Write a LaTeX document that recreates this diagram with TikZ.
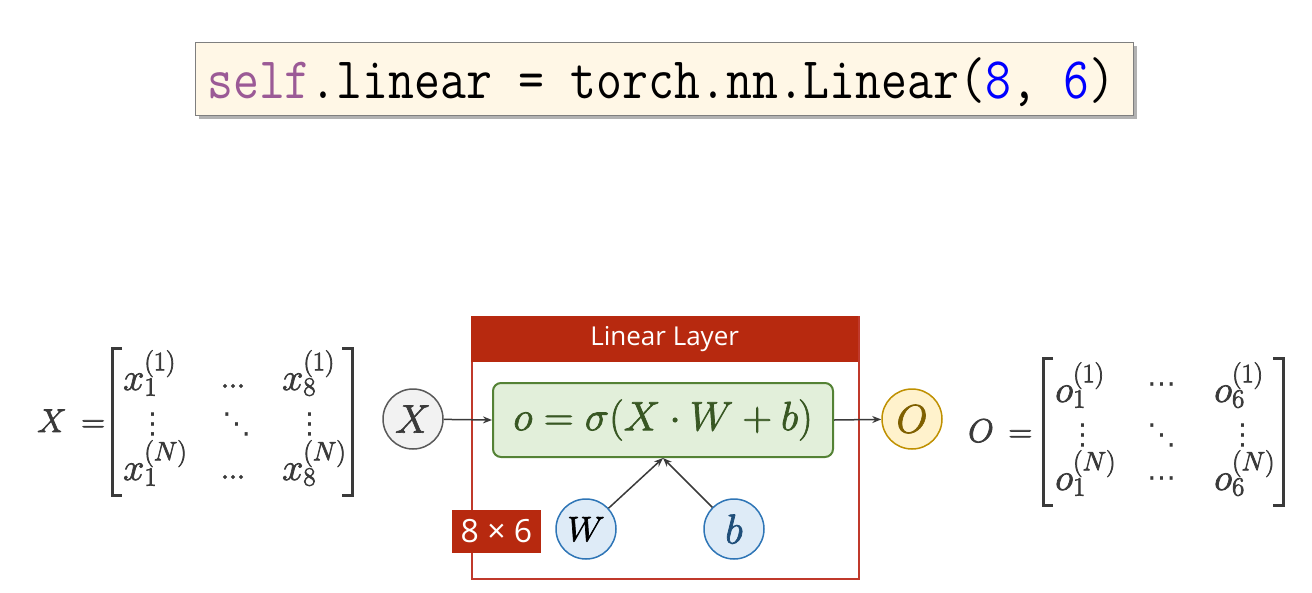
\RequirePackage{fix-cm}
\documentclass[tikz,border=0pt]{standalone}
\usepackage{fontspec}
\usetikzlibrary{arrows.meta,shadows}
\newfontfamily\uifont{Open Sans}
\newfontfamily\dotfont{DejaVu Sans}
\definecolor{codebg}{HTML}{FFF7E6}
\definecolor{codeborder}{HTML}{7F7F7F}
\definecolor{selfc}{HTML}{9B5A96}
\definecolor{numc}{HTML}{0000FF}
\definecolor{layerred}{HTML}{B7290F}
\definecolor{framec}{HTML}{C0392B}
\definecolor{greenfill}{HTML}{E2EFDA}
\definecolor{greenline}{HTML}{548235}
\definecolor{greentext}{HTML}{385723}
\definecolor{darkgray}{HTML}{3A3A3A}
\definecolor{xfill}{HTML}{F2F2F2}
\definecolor{xline}{HTML}{595959}
\definecolor{ofill}{HTML}{FFF2CC}
\definecolor{oline}{HTML}{BF9000}
\definecolor{otext}{HTML}{7F6000}
\definecolor{bfill}{HTML}{DEEBF7}
\definecolor{bline}{HTML}{2E75B6}
\definecolor{btext}{HTML}{1F4E79}
\newcommand{\mhdots}{\hbox{.\kern-1.5pt.\kern-1.5pt.}}
\newcommand{\csp}{\hspace*{0.525em}}
\newcommand{\fb}[1]{\special{pdf:literal direct 0.7 w 2 Tr}#1\special{pdf:literal direct 0 Tr}}
\begin{document}
\begin{tikzpicture}[x=1pt,y=-1pt,
  codebox/.style={draw=codeborder, line width=1pt, fill=codebg,
    drop shadow={shadow xshift=3pt, shadow yshift=-3pt, fill=black, opacity=0.3}},
  ent/.style={inner sep=0pt, text=darkgray, font=\fontsize{38}{42}\selectfont},
  dots/.style={inner sep=0pt, text=darkgray, font=\dotfont\fontsize{29}{32}\selectfont},
  bracket/.style={draw=darkgray, line width=3pt},
  conn/.style={draw=darkgray, line width=1.5pt, -{Stealth[length=9pt,width=7pt]}},
  circ/.style={circle, minimum size=60pt, inner sep=0pt, line width=1.5pt},
  fbox/.style={draw=greenline, line width=2pt, fill=greenfill, rounded corners=8pt,
    minimum width=340pt, minimum height=74pt, text=greentext,
    font=\fontsize{41}{45}\selectfont},
]
\useasboundingbox (0,0) rectangle (1312,592);
% code box
\node[codebox, minimum width=938pt, minimum height=73pt, anchor=north west] (code) at (195,42) {};
\node[anchor=base west, inner sep=0pt] (codetext) at (207,98)
  {\scalebox{1}[1.17]{\ttfamily\fontsize{50.3}{52}\selectfont\textcolor{selfc}{self}.linear\csp=\csp torch.nn.Linear(\textcolor{numc}{8},\csp\textcolor{numc}{6})}};
% left matrix
\node[ent, anchor=base west, font=\fontsize{33}{36}\selectfont] (Xeq) at (37,432) {\fb{$X\mkern3mu=$}};
\draw[bracket] (122,348) -- (112,348) -- (112,495) -- (122,495);
\draw[bracket] (342,348) -- (352,348) -- (352,495) -- (342,495);
\node[ent, anchor=base west] (x11) at (123,390) {\fb{$x_1^{(1)}$}};
\node[ent] (x1d) at (233,386) {\fb{\mhdots}};
\node[ent, anchor=base west] (x18) at (282,390) {\fb{$x_8^{(1)}$}};
\node[dots] (xv1) at (153,424) {⋮};
\node[dots] (xdd) at (237,424) {⋱};
\node[dots] (xv8) at (310,424) {⋮};
\node[ent, anchor=base west] (xN1) at (123,480) {\fb{$x_1^{(N)}$}};
\node[ent] (xNd) at (233,477) {\fb{\mhdots}};
\node[ent, anchor=base west] (xN8) at (282,480) {\fb{$x_8^{(N)}$}};
% right matrix
\node[ent, anchor=base west, font=\fontsize{33}{36}\selectfont] (Oeq) at (968,442) {\fb{$O\mkern3mu=$}};
\draw[bracket] (1053,358) -- (1043,358) -- (1043,505) -- (1053,505);
\draw[bracket] (1273,358) -- (1283,358) -- (1283,505) -- (1273,505);
\node[ent, anchor=base west] (o11) at (1055,402) {\fb{$o_1^{(1)}$}};
\node[dots] (o1d) at (1162,388) {⋯};
\node[ent, anchor=base west] (o16) at (1214,402) {\fb{$o_6^{(1)}$}};
\node[dots] (ov1) at (1083,435) {⋮};
\node[dots] (odd) at (1162,435) {⋱};
\node[dots] (ov6) at (1243,435) {⋮};
\node[ent, anchor=base west] (oN1) at (1055,490) {\fb{$o_1^{(N)}$}};
\node[dots] (oNd) at (1162,482) {⋯};
\node[ent, anchor=base west] (oN6) at (1214,490) {\fb{$o_6^{(N)}$}};
% linear layer
\node[draw=framec, line width=1.5pt, minimum width=387pt, minimum height=262pt, anchor=north west, inner sep=0pt] (layer) at (471,316) {};
\node[fill=layerred, minimum width=387pt, minimum height=46pt, anchor=north west, inner sep=0pt, text=white, font=\uifont\fontsize{26}{30}\selectfont] (hdr) at (471,316) {Linear Layer};
\node[fbox] (f) at (663,420) {\fb{$o = \sigma(X\cdot W + b)$}};
\node[circ, draw=xline, fill=xfill, text=darkgray, font=\fontsize{40}{44}\selectfont] (Xc) at (413,419) {\fb{$X$}};
\node[circ, draw=oline, fill=ofill, text=otext, font=\fontsize{40}{44}\selectfont] (Oc) at (912,419) {\fb{$O$}};
\node[circ, draw=bline, fill=bfill, text=black, font=\fontsize{35}{40}\selectfont] (Wc) at (586,529) {\fb{$W$}};
\node[circ, draw=bline, fill=bfill, text=btext, font=\fontsize{42}{46}\selectfont] (bc) at (734,529) {\fb{$b$}};
\node[fill=layerred, text=white, minimum width=89pt, minimum height=43pt, inner sep=0pt, font=\uifont\fontsize{32}{36}\selectfont] (dims) at (496.5,531.5) {8 × 6};
\draw[conn] (Xc) -- (f.west);
\draw[conn] (f.east) -- (Oc);
\draw[conn] (Wc) -- (f.south);
\draw[conn] (bc) -- (f.south);
\end{tikzpicture}
\end{document}
